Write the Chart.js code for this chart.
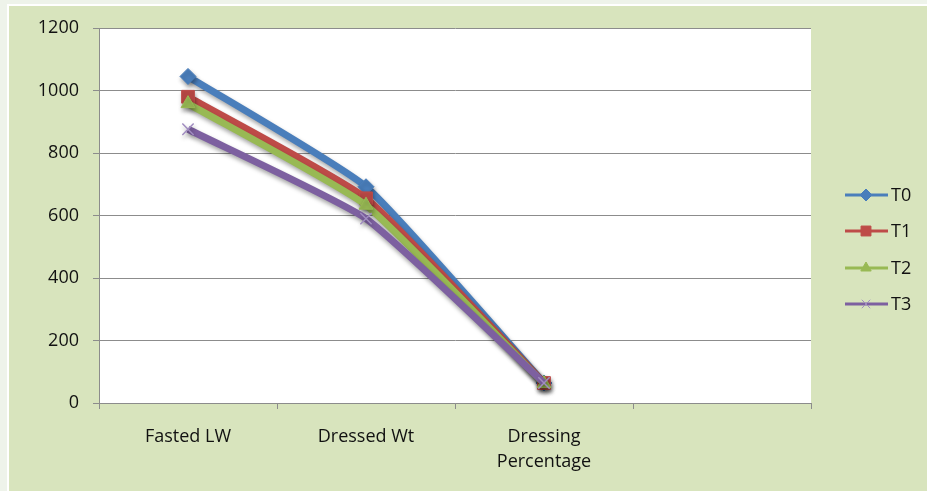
<!DOCTYPE html>
<html lang="en">
<head>
<meta charset="UTF-8">
<title>slaughter</title>
<style type="text/css">
    html, body { margin: 0; padding: 0; }
    body { width: 927px; height: 491px; background: #eef3ea; overflow: hidden; }
    .chartbox {
        position: absolute; left: 0; top: 0;
        width: 927px; height: 491px;
    }
    .frame {
        position: absolute; left: 7px; top: 4px; width: 920px; height: 487px;
        background: #d8e4bd; border-left: 2px solid #fff; border-top: 2px solid #fff;
        box-sizing: border-box;
    }
</style>
<script src="https://cdn.jsdelivr.net/npm/chart.js@4.4.0/dist/chart.umd.min.js"></script>
</head>
<body>
<div class="frame"></div>
<div class="chartbox">
    <canvas id="myChart" width="927" height="491"></canvas>
</div>
<script>
// categories (4th slot is empty in the original)
var categories = ['Fasted LW', 'Dressed Wt', ['Dressing', 'Percentage'], ''];
var seriesNames = ['T0', 'T1', 'T2', 'T3'];
var t0 = [1045, 692, 64, null];
var t1 = [980, 655, 64, null];
var t2 = [958, 633, 62, null];
var t3 = [876, 590, 64, null];
var yTicks = [0, 200, 400, 600, 800, 1000, 1200];

var colors = ['#4a7ebb', '#be4b48', '#98b954', '#7d60a0'];
var styles = ['rectRot', 'rect', 'triangle', 'crossRot'];
var radii = [8, 9, 8, 8];
var values = [t0, t1, t2, t3];

const font = "'Open Sans', Lato, sans-serif";

// white plot area
const plotBg = {
    id: 'plotBg',
    beforeDraw(chart) {
        const a = chart.chartArea, ctx = chart.ctx;
        ctx.save();
        ctx.fillStyle = '#ffffff';
        ctx.fillRect(a.left, a.top, a.right - a.left, a.bottom - a.top);
        ctx.restore();
    }
};

// soft shadow under the series, like the office chart
const shadow = {
    id: 'shadow',
    beforeDatasetDraw(chart) {
        const ctx = chart.ctx;
        ctx.save();
        ctx.shadowColor = 'rgba(0,0,0,0.35)';
        ctx.shadowBlur = 4;
        ctx.shadowOffsetX = 1;
        ctx.shadowOffsetY = 3;
    },
    afterDatasetDraw(chart) {
        chart.ctx.restore();
    }
};

// legend on the right: line with the marker in the middle
const sideLegend = {
    id: 'sideLegend',
    afterDraw(chart) {
        const ctx = chart.ctx;
        const x0 = 845, x1 = 888, xm = 866;
        const ys = [195, 231, 268, 304];
        ctx.save();
        chart.data.datasets.forEach((ds, i) => {
            const y = ys[i];
            ctx.strokeStyle = ds.borderColor;
            ctx.lineWidth = 3;
            ctx.beginPath();
            ctx.moveTo(x0, y);
            ctx.lineTo(x1, y);
            ctx.stroke();
            ctx.fillStyle = ds.pointBackgroundColor;
            ctx.strokeStyle = ds.pointBorderColor;
            ctx.lineWidth = 1;
            Chart.helpers.drawPoint(ctx, {
                pointStyle: ds.pointStyle,
                radius: ds.pointStyle === 'rect' ? 7 : 6,
                rotation: 0,
                borderWidth: 1
            }, xm, y);
            ctx.fillStyle = '#111';
            ctx.font = '18px ' + font;
            ctx.textBaseline = 'middle';
            ctx.fillText(seriesNames[i], 891, y + 1);
        });
        ctx.restore();
    }
};

const data = {
    labels: categories,
    datasets: seriesNames.map((name, i) => ({
        label: name,
        data: values[i],
        borderColor: colors[i],
        backgroundColor: colors[i],
        borderWidth: 7,
        pointStyle: styles[i],
        pointRadius: radii[i],
        pointBackgroundColor: colors[i],
        pointBorderColor: i === 3 ? '#a08cc0' : colors[i],
        pointBorderWidth: i === 3 ? 1.5 : 1,
        tension: 0.15,
        order: 3 - i
    }))
};

const config = {
    type: 'line',
    data,
    options: {
        responsive: false,
        animation: false,
        layout: { padding: { left: 9, top: 28, right: 116, bottom: 0 } },
        plugins: { legend: { display: false }, tooltip: { enabled: false } },
        scales: {
            x: {
                offset: true,
                grid: {
                    offset: true,
                    drawOnChartArea: false,
                    drawTicks: true,
                    tickLength: 6,
                    color: '#8c8c8c'
                },
                border: { color: '#8c8c8c', width: 1 },
                ticks: {
                    color: '#111',
                    font: { family: font, size: 18, lineHeight: 1.35 },
                    padding: 16,
                    maxRotation: 0,
                    autoSkip: false
                },
                afterFit(s) { s.height = 88; }
            },
            y: {
                min: 0,
                max: 1200,
                afterBuildTicks(s) { s.ticks = yTicks.map(v => ({ value: v })); },
                grid: {
                    color: '#8c8c8c',
                    tickLength: 6,
                    drawTicks: true
                },
                border: { color: '#8c8c8c', width: 1 },
                ticks: {
                    color: '#111',
                    font: { family: font, size: 18 },
                    padding: 14,
                    callback: v => String(v)
                },
                afterFit(s) { s.width = 90; }
            }
        }
    },
    plugins: [plotBg, shadow, sideLegend]
};

const myChart = new Chart(document.getElementById('myChart'), config);
</script>
</body>
</html>
